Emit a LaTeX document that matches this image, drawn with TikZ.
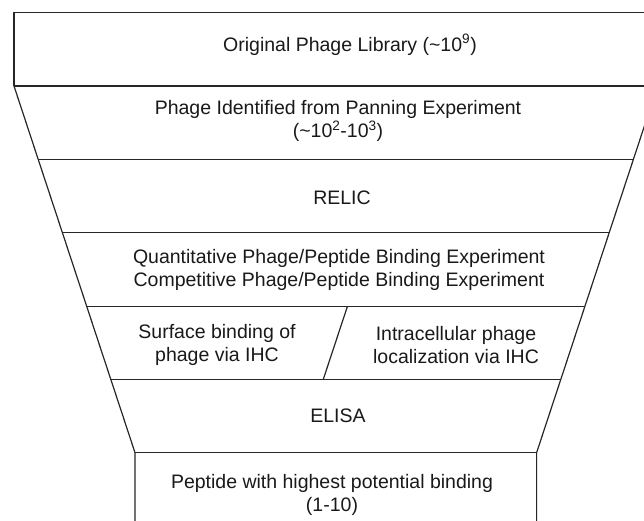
\documentclass[tikz,border=0pt]{standalone}
\usepackage{fontspec}
\setmainfont{Liberation Sans}
\begin{document}
\begin{tikzpicture}[x=1pt,y=-1pt,
  edge/.style={draw=black!85,line width=1.2pt,line join=miter},
  lbl/.style={font=\fontsize{19.5}{23}\selectfont,align=center,inner sep=0pt,text=black!90}]
\useasboundingbox (0,0) rectangle (644,520);
\clip (0,0) rectangle (644,520);
% corner coordinates
\coordinate (t0l) at (14,12.7);   \coordinate (t0r) at (657.6,12.7);
\coordinate (t1l) at (14,86);     \coordinate (t1r) at (657.6,86);
\coordinate (t2l) at (38.2,159.3);\coordinate (t2r) at (633.4,159.3);
\coordinate (t3l) at (62.4,232.7);\coordinate (t3r) at (609.2,232.7);
\coordinate (t4l) at (86.8,306.7);\coordinate (t4r) at (584.8,306.7);
\coordinate (t5l) at (110.8,379.3);\coordinate (t5r) at (560.8,379.3);
\coordinate (t6l) at (135,452.7); \coordinate (t6r) at (536.6,452.7);
\coordinate (t7l) at (135,528);   \coordinate (t7r) at (536.6,528);
\coordinate (dtop) at (347.3,306.7); \coordinate (dbot) at (323.3,379.3);
% outline
\draw[edge] (t1l) -- (t0l) -- (t0r) -- (t1r);
\draw[edge] (t1l) -- (t6l) -- (t7l);
\draw[edge] (t1r) -- (t6r) -- (t7r);
\foreach \i in {1,...,6} \draw[edge] (t\i l) -- (t\i r);
\draw[edge] (dtop) -- (dbot);
% labels
\node[lbl] (n1) at (350,45) {Original Phage Library (\textasciitilde10\textsuperscript{9})};
\node[lbl] (n2) at (338,121) {Phage Identified from Panning Experiment\\(\textasciitilde10\textsuperscript{2}-10\textsuperscript{3})};
\node[lbl] (n3) at (342,198) {RELIC};
\node[lbl] (n4) at (339,270) {Quantitative Phage/Peptide Binding Experiment\\Competitive Phage/Peptide Binding Experiment};
\node[lbl] (n5a) at (217,345) {Surface binding of\\phage via IHC};
\node[lbl] (n5b) at (456,345) {Intracellular phage\\localization via IHC};
\node[lbl] (n6) at (338,416) {ELISA};
\node[lbl] (n7) at (332,495) {Peptide with highest potential binding\\(1-10)};
\end{tikzpicture}
\end{document}
